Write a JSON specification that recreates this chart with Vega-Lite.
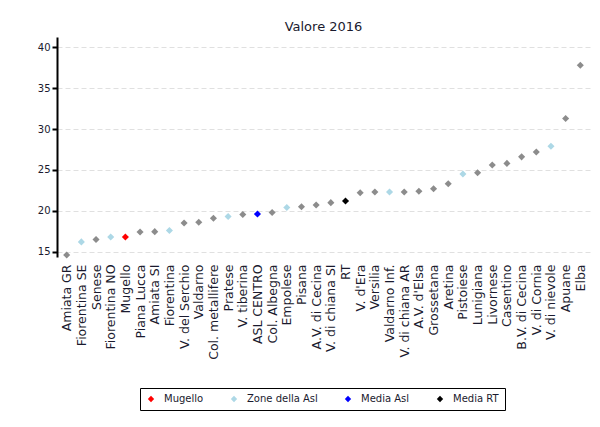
{
  "$schema": "https://vega.github.io/schema/vega-lite/v6.json",
  "autosize": "none",
  "padding": {"left": 57, "top": 37, "right": 10, "bottom": 170},
  "width": 533,
  "height": 220,
  "background": "white",
  "config": {
    "font": "DejaVu Sans",
    "view": {"stroke": null}
  },
  "title": {"text": "Valore 2016", "fontSize": 13, "fontWeight": "normal", "color": "#1a1a2e", "anchor": "middle", "offset": 3},
  "data": {
    "values": [
      {"zona": "Amiata GR", "valore": 14.6, "tipo": "Altre"},
      {"zona": "Fiorentina SE", "valore": 16.2, "tipo": "Zone della Asl"},
      {"zona": "Senese", "valore": 16.5, "tipo": "Altre"},
      {"zona": "Fiorentina NO", "valore": 16.8, "tipo": "Zone della Asl"},
      {"zona": "Mugello", "valore": 16.8, "tipo": "Mugello"},
      {"zona": "Piana Lucca", "valore": 17.4, "tipo": "Altre"},
      {"zona": "Amiata SI", "valore": 17.45, "tipo": "Altre"},
      {"zona": "Fiorentina", "valore": 17.6, "tipo": "Zone della Asl"},
      {"zona": "V. del Serchio", "valore": 18.5, "tipo": "Altre"},
      {"zona": "Valdarno", "valore": 18.6, "tipo": "Altre"},
      {"zona": "Col. metallifere", "valore": 19.1, "tipo": "Altre"},
      {"zona": "Pratese", "valore": 19.3, "tipo": "Zone della Asl"},
      {"zona": "V. tiberina", "valore": 19.55, "tipo": "Altre"},
      {"zona": "ASL CENTRO", "valore": 19.6, "tipo": "Media Asl"},
      {"zona": "Col. Albegna", "valore": 19.8, "tipo": "Altre"},
      {"zona": "Empolese", "valore": 20.4, "tipo": "Zone della Asl"},
      {"zona": "Pisana", "valore": 20.5, "tipo": "Altre"},
      {"zona": "A.V. di Cecina", "valore": 20.7, "tipo": "Altre"},
      {"zona": "V. di chiana SI", "valore": 21.0, "tipo": "Altre"},
      {"zona": "RT", "valore": 21.2, "tipo": "Media RT"},
      {"zona": "V. d'Era", "valore": 22.2, "tipo": "Altre"},
      {"zona": "Versilia", "valore": 22.3, "tipo": "Altre"},
      {"zona": "Valdarno Inf.", "valore": 22.3, "tipo": "Zone della Asl"},
      {"zona": "V. di chiana AR", "valore": 22.3, "tipo": "Altre"},
      {"zona": "A.V. d'Elsa", "valore": 22.4, "tipo": "Altre"},
      {"zona": "Grossetana", "valore": 22.7, "tipo": "Altre"},
      {"zona": "Aretina", "valore": 23.3, "tipo": "Altre"},
      {"zona": "Pistoiese", "valore": 24.5, "tipo": "Zone della Asl"},
      {"zona": "Lunigiana", "valore": 24.65, "tipo": "Altre"},
      {"zona": "Livornese", "valore": 25.6, "tipo": "Altre"},
      {"zona": "Casentino", "valore": 25.8, "tipo": "Altre"},
      {"zona": "B.V. di Cecina", "valore": 26.6, "tipo": "Altre"},
      {"zona": "V. di Cornia", "valore": 27.2, "tipo": "Altre"},
      {"zona": "V. di nievole", "valore": 27.9, "tipo": "Zone della Asl"},
      {"zona": "Apuane", "valore": 31.3, "tipo": "Altre"},
      {"zona": "Elba", "valore": 37.8, "tipo": "Altre"}
    ]
  },
  "mark": {"type": "point", "shape": "diamond", "filled": true, "size": 50, "opacity": 1},
  "encoding": {
    "x": {
      "field": "zona",
      "type": "nominal",
      "sort": null,
      "scale": {"type": "point", "padding": 0.66},
      "axis": {
        "title": null,
        "domain": false,
        "ticks": false,
        "grid": false,
        "labelAngle": -90,
        "labelFontSize": 12.5,
        "labelColor": "#1a1a2e",
        "labelPadding": 7,
        "labelOverlap": false
      }
    },
    "y": {
      "field": "valore",
      "type": "quantitative",
      "scale": {"domain": [14.35, 41.26], "nice": false, "zero": false},
      "axis": {
        "title": null,
        "values": [15, 20, 25, 30, 35, 40],
        "domainColor": "black",
        "domainWidth": 2,
        "tickColor": "black",
        "tickWidth": 2,
        "tickSize": 5,
        "labelFontSize": 10,
        "labelColor": "#1a1a2e",
        "labelPadding": 2,
        "grid": true,
        "gridColor": "#e0e0e0",
        "gridDash": [5, 3],
        "gridWidth": 1
      }
    },
    "color": {
      "field": "tipo",
      "type": "nominal",
      "scale": {
        "domain": ["Mugello", "Zone della Asl", "Media Asl", "Media RT", "Altre"],
        "range": ["#ff0000", "#add8e6", "#0000ff", "#000000", "#8c8c8c"]
      },
      "legend": {
        "values": ["Mugello", "Zone della Asl", "Media Asl", "Media RT"],
        "title": null,
        "orient": "none",
        "legendX": 83,
        "legendY": 351,
        "direction": "horizontal",
        "symbolType": "diamond",
        "symbolSize": 40,
        "labelFontSize": 10,
        "labelColor": "#1a1a2e",
        "labelOffset": 8,
        "columnPadding": 25,
        "strokeColor": "black",
        "padding": 6,
        "encode": {"legend": {"update": {"strokeWidth": {"value": 2}}}}
      }
    }
  }
}
